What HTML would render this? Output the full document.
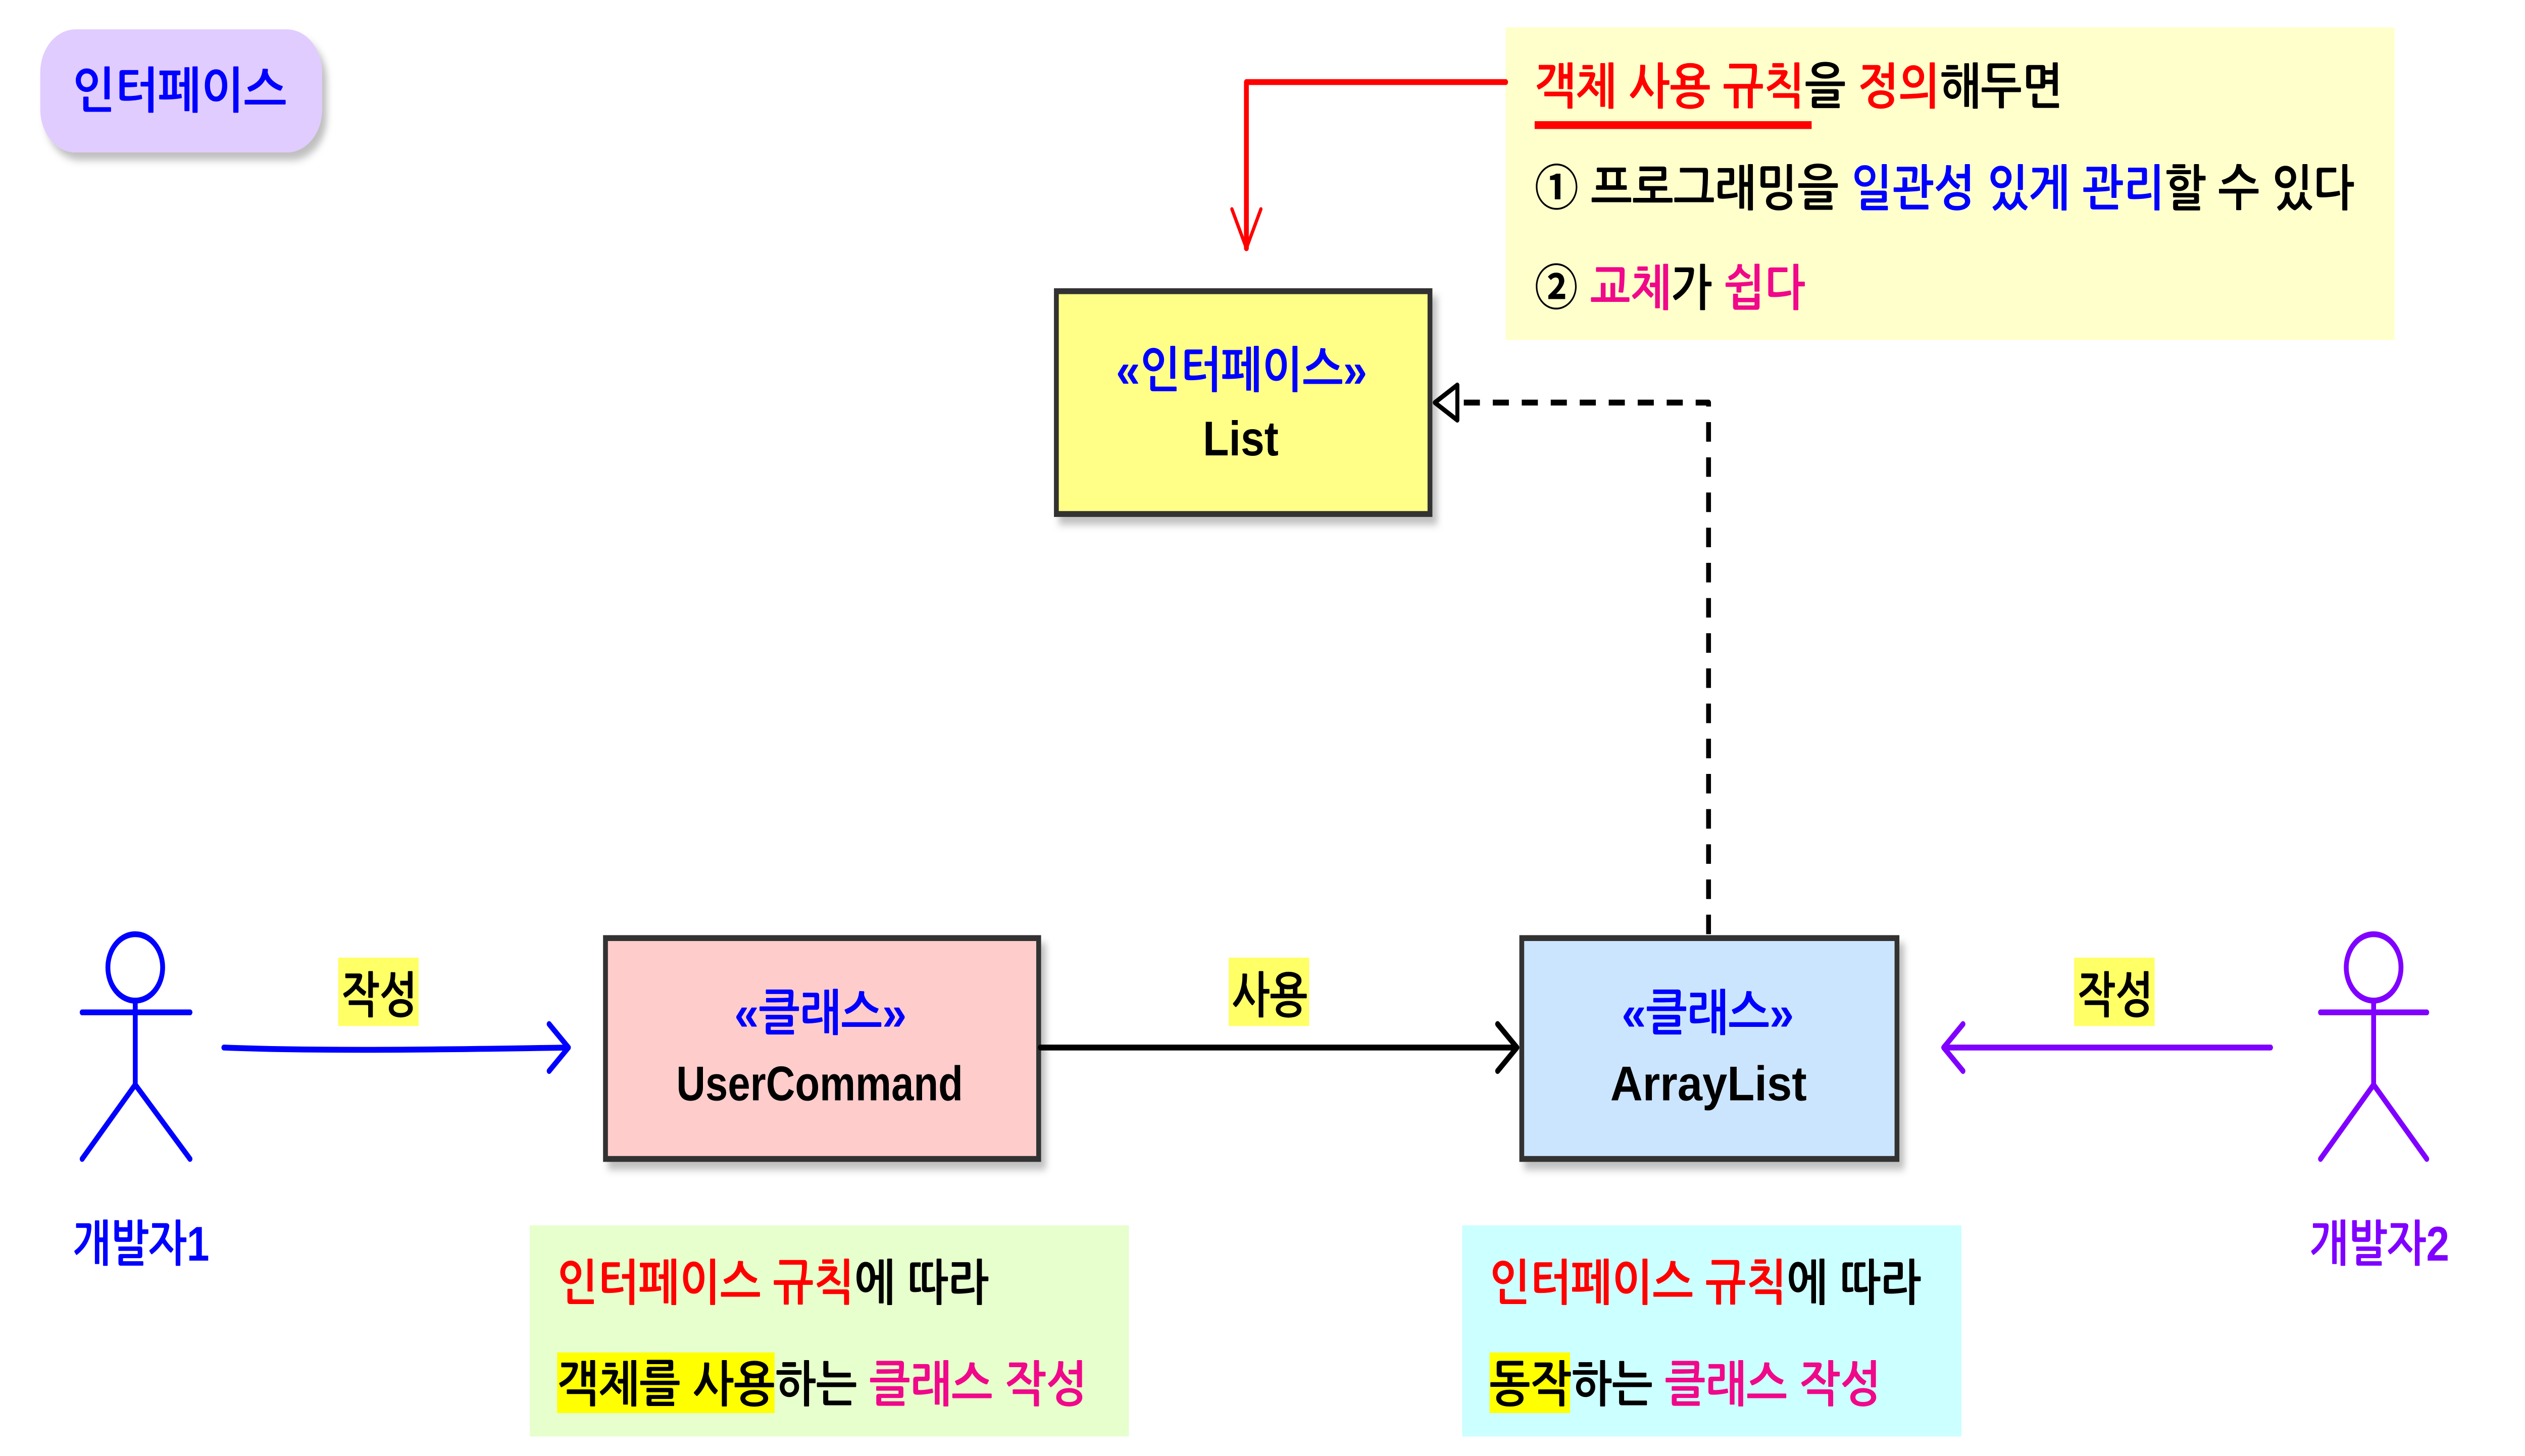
<!DOCTYPE html>
<html><head><meta charset="utf-8"><style>
html,body{margin:0;padding:0;background:#fff;width:100%;height:100%;overflow:hidden}
svg{position:absolute;left:0;top:0;width:100vw;height:100vh;display:block}
text{font-family:"Liberation Sans","NanumGothic","Noto Sans CJK KR",sans-serif;font-weight:bold;font-size:25px}
</style></head><body>
<svg viewBox="0 0 1568 745" preserveAspectRatio="none">
<defs><filter id="sh" x="-10%" y="-10%" width="130%" height="130%"><feDropShadow dx="3" dy="4" stdDeviation="2" flood-color="#000" flood-opacity="0.25"/></filter></defs>
<rect x="25" y="15" width="175" height="63" rx="22" fill="#e0ccff" filter="url(#sh)"/>
<text x="45" y="55" fill="#0000ff" textLength="133" lengthAdjust="spacingAndGlyphs">인터페이스</text>

<rect x="935" y="14" width="552" height="160" fill="#ffffcc"/>
<text x="953" y="53" textLength="328" lengthAdjust="spacingAndGlyphs"><tspan fill="#ff0000">객체 사용 규칙</tspan>을 <tspan fill="#ff0000">정의</tspan>해두면</text>
<rect x="953" y="62" width="172" height="4" fill="#ff0000"/>
<text x="953" y="105" textLength="509" lengthAdjust="spacingAndGlyphs">① 프로그래밍을 <tspan fill="#0000ff">일관성 있게 관리</tspan>할 수 있다</text>
<text x="953" y="156" textLength="168" lengthAdjust="spacingAndGlyphs">② <tspan fill="#f0088a">교체</tspan>가 <tspan fill="#f0088a">쉽다</tspan></text>

<g stroke="#333" stroke-width="3" filter="url(#sh)">
<rect x="656" y="149" width="232" height="114" fill="#ffff88"/>
<rect x="376" y="480" width="269" height="113" fill="#ffcccc"/>
<rect x="945" y="480" width="233" height="113" fill="#cce5ff"/>
</g>
<text x="693" y="198" fill="#0000ff" textLength="156" lengthAdjust="spacingAndGlyphs">«인터페이스»</text>
<text x="747" y="233" fill="#000" textLength="47" lengthAdjust="spacingAndGlyphs">List</text>
<text x="456" y="527" fill="#0000ff" textLength="107" lengthAdjust="spacingAndGlyphs">«클래스»</text>
<text x="420" y="563" fill="#000" textLength="178" lengthAdjust="spacingAndGlyphs">UserCommand</text>
<text x="1007" y="527" fill="#0000ff" textLength="107" lengthAdjust="spacingAndGlyphs">«클래스»</text>
<text x="1000" y="563" fill="#000" textLength="122" lengthAdjust="spacingAndGlyphs">ArrayList</text>

<g fill="none" stroke-linecap="round" stroke-linejoin="round">
<path d="M935 42 H774 V127" stroke="#ff0000" stroke-width="3"/>
<path d="M765 107 L774 127 L783 107" stroke="#ff0000" stroke-width="2"/>
<path d="M1061 478 V206 H905" stroke="#000" stroke-width="3" stroke-dasharray="10 8" stroke-linecap="butt"/>
<path d="M905 197 L891 206 L905 215 Z" stroke="#000" stroke-width="2.5" fill="#fff"/>
<g stroke="#0000ff" stroke-width="3"><circle cx="84" cy="495" r="17"/><path d="M84 512 V555 M51 518 H118 M84 555 L51 593 M84 555 L118 593 M139 536 C200 538 280 537 353 536 M341 524 L353 536 L341 548"/></g>
<path d="M646 536 H942 M930 524 L942 536 L930 548" stroke="#000" stroke-width="3"/>
<g stroke="#8000ff" stroke-width="3"><circle cx="1474" cy="495" r="17"/><path d="M1474 512 V555 M1441 518 H1507 M1474 555 L1441 593 M1474 555 L1507 593 M1410 536 H1207 M1219 524 L1207 536 L1219 548"/></g>
</g>

<rect x="210" y="490" width="50" height="35" fill="#ffff66"/>
<text x="212" y="518" textLength="47" lengthAdjust="spacingAndGlyphs">작성</text>
<rect x="763" y="490" width="50" height="35" fill="#ffff66"/>
<text x="765" y="518" textLength="47" lengthAdjust="spacingAndGlyphs">사용</text>
<rect x="1288" y="490" width="50" height="35" fill="#ffff66"/>
<text x="1290" y="518" textLength="47" lengthAdjust="spacingAndGlyphs">작성</text>
<text x="45" y="645" fill="#0000ff" textLength="85" lengthAdjust="spacingAndGlyphs">개발자1</text>
<text x="1434" y="645" fill="#8000ff" textLength="87" lengthAdjust="spacingAndGlyphs">개발자2</text>

<rect x="329" y="627" width="372" height="108" fill="#e6ffcc"/>
<text x="346" y="665" textLength="268" lengthAdjust="spacingAndGlyphs"><tspan fill="#ff0000">인터페이스 규칙</tspan>에 따라</text>
<rect x="346" y="692" width="135" height="31" fill="#ffff00"/>
<text x="346" y="717" textLength="329" lengthAdjust="spacingAndGlyphs">객체를 사용하는 <tspan fill="#f0088a">클래스 작성</tspan></text>
<rect x="908" y="627" width="310" height="108" fill="#ccffff"/>
<text x="925" y="665" textLength="268" lengthAdjust="spacingAndGlyphs"><tspan fill="#ff0000">인터페이스 규칙</tspan>에 따라</text>
<rect x="925" y="692" width="50" height="31" fill="#ffff00"/>
<text x="925" y="717" textLength="243" lengthAdjust="spacingAndGlyphs">동작하는 <tspan fill="#f0088a">클래스 작성</tspan></text>
</svg>
</body></html>
